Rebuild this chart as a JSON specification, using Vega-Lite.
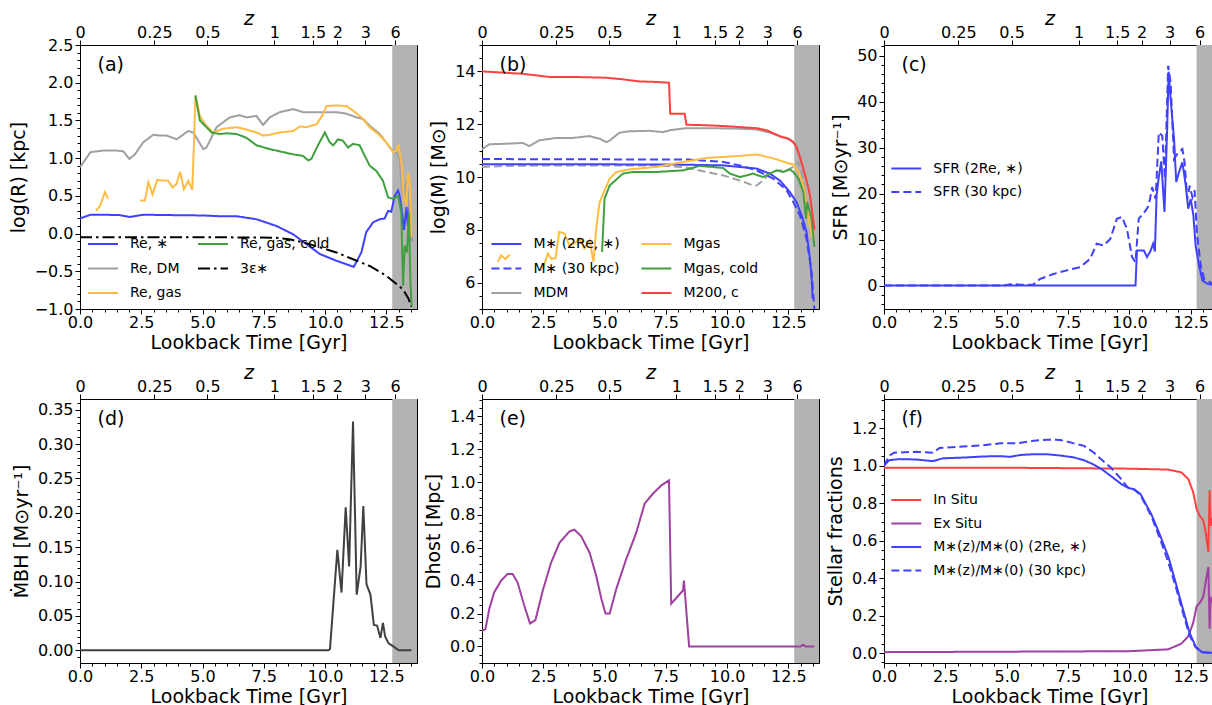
{
"$schema": "https://vega.github.io/schema/vega-lite/v6.json",
"background": "white",
"padding": {"left": 8, "top": 8, "right": 0, "bottom": 0},
"columns": 3,
"spacing": {"row": 90, "column": 65},
"bounds": "flush",
"resolve": {"scale": {"color": "independent", "strokeDash": "independent"}, "legend": {"color": "independent", "strokeDash": "independent"}},
"config": {
 "font": "DejaVu Sans",
 "view": {"stroke": "black", "strokeWidth": 1},
 "axis": {"labelFont": "DejaVu Sans", "labelFontSize": 16, "labelColor": "black", "titleFont": "DejaVu Sans", "titleFontSize": 19, "titleFontWeight": "normal", "titleColor": "black", "tickColor": "black", "domainColor": "black", "grid": false, "tickSize": 5, "labelPadding": 2, "labelFlush": false, "labelOverlap": false, "labelBound": false},
 "legend": {"labelFont": "DejaVu Sans", "labelFontSize": 14, "labelColor": "black", "symbolStrokeWidth": 2, "labelOffset": 15, "rowPadding": 5, "padding": 0, "labelLimit": 400},
 "title": {"anchor": "start", "frame": "group", "fontSize": 19, "fontWeight": "normal", "font": "DejaVu Sans", "color": "black", "dx": 17.5, "dy": 70, "baseline": "alphabetic", "offset": 0}
},
"datasets": {
 "a": [
  {"s":"Re, ∗","t":0,"v":0.2},{"s":"Re, ∗","t":0.43,"v":0.25},{"s":"Re, ∗","t":0.95,"v":0.25},{"s":"Re, ∗","t":1.6,"v":0.245},{"s":"Re, ∗","t":2.04,"v":0.22},{"s":"Re, ∗","t":2.58,"v":0.25},{"s":"Re, ∗","t":3.67,"v":0.245},{"s":"Re, ∗","t":5.03,"v":0.24},{"s":"Re, ∗","t":5.71,"v":0.23},{"s":"Re, ∗","t":6.39,"v":0.23},{"s":"Re, ∗","t":7.2,"v":0.19},{"s":"Re, ∗","t":8.02,"v":0.1},{"s":"Re, ∗","t":8.7,"v":-0.01},{"s":"Re, ∗","t":9.24,"v":-0.14},{"s":"Re, ∗","t":9.78,"v":-0.27},{"s":"Re, ∗","t":10.46,"v":-0.36},{"s":"Re, ∗","t":11.07,"v":-0.43},{"s":"Re, ∗","t":11.17,"v":-0.44},{"s":"Re, ∗","t":11.48,"v":-0.25},{"s":"Re, ∗","t":11.68,"v":0.02},{"s":"Re, ∗","t":11.96,"v":0.15},{"s":"Re, ∗","t":12.23,"v":0.19},{"s":"Re, ∗","t":12.43,"v":0.2},{"s":"Re, ∗","t":12.57,"v":0.3},{"s":"Re, ∗","t":12.7,"v":0.29},{"s":"Re, ∗","t":12.84,"v":0.5},{"s":"Re, ∗","t":12.98,"v":0.57},{"s":"Re, ∗","t":13.04,"v":0.5},{"s":"Re, ∗","t":13.14,"v":0.28},{"s":"Re, ∗","t":13.22,"v":0.05},{"s":"Re, ∗","t":13.32,"v":0.35},{"s":"Re, ∗","t":13.38,"v":0.1},{"s":"Re, ∗","t":13.45,"v":0.42},{"s":"Re, ∗","t":13.53,"v":-0.1},
  {"s":"Re, DM","t":0,"v":0.88},{"s":"Re, DM","t":0.43,"v":1.08},{"s":"Re, DM","t":0.95,"v":1.1},{"s":"Re, DM","t":1.49,"v":1.1},{"s":"Re, DM","t":1.77,"v":1.09},{"s":"Re, DM","t":2.01,"v":0.99},{"s":"Re, DM","t":2.24,"v":1.05},{"s":"Re, DM","t":2.58,"v":1.21},{"s":"Re, DM","t":2.99,"v":1.31},{"s":"Re, DM","t":3.26,"v":1.3},{"s":"Re, DM","t":3.53,"v":1.3},{"s":"Re, DM","t":3.94,"v":1.25},{"s":"Re, DM","t":4.42,"v":1.36},{"s":"Re, DM","t":4.62,"v":1.34},{"s":"Re, DM","t":5.03,"v":1.12},{"s":"Re, DM","t":5.16,"v":1.14},{"s":"Re, DM","t":5.57,"v":1.41},{"s":"Re, DM","t":6.11,"v":1.54},{"s":"Re, DM","t":6.52,"v":1.57},{"s":"Re, DM","t":6.79,"v":1.54},{"s":"Re, DM","t":7.2,"v":1.56},{"s":"Re, DM","t":7.47,"v":1.44},{"s":"Re, DM","t":7.74,"v":1.54},{"s":"Re, DM","t":8.15,"v":1.61},{"s":"Re, DM","t":8.7,"v":1.65},{"s":"Re, DM","t":9.1,"v":1.61},{"s":"Re, DM","t":9.78,"v":1.61},{"s":"Re, DM","t":10.46,"v":1.61},{"s":"Re, DM","t":10.87,"v":1.59},{"s":"Re, DM","t":11.28,"v":1.54},{"s":"Re, DM","t":11.55,"v":1.52},{"s":"Re, DM","t":11.82,"v":1.43},{"s":"Re, DM","t":12.23,"v":1.32},{"s":"Re, DM","t":12.7,"v":1.12},{"s":"Re, DM","t":12.91,"v":1.08},{"s":"Re, DM","t":13.04,"v":0.99},{"s":"Re, DM","t":13.18,"v":0.46},{"s":"Re, DM","t":13.32,"v":0.7},{"s":"Re, DM","t":13.45,"v":0.3},{"s":"Re, DM","t":13.53,"v":-0.1},
  {"s":"Re, gas","g":1,"t":0.65,"v":0.3},{"s":"Re, gas","g":1,"t":0.82,"v":0.37},{"s":"Re, gas","g":1,"t":1.02,"v":0.55},{"s":"Re, gas","g":1,"t":1.15,"v":0.46},
  {"s":"Re, gas","g":2,"t":2.45,"v":0.44},{"s":"Re, gas","g":2,"t":2.65,"v":0.44},{"s":"Re, gas","g":2,"t":2.79,"v":0.68},{"s":"Re, gas","g":2,"t":2.96,"v":0.52},{"s":"Re, gas","g":2,"t":3.15,"v":0.71},{"s":"Re, gas","g":2,"t":3.6,"v":0.7},{"s":"Re, gas","g":2,"t":3.78,"v":0.61},{"s":"Re, gas","g":2,"t":3.94,"v":0.66},{"s":"Re, gas","g":2,"t":4.08,"v":0.82},{"s":"Re, gas","g":2,"t":4.24,"v":0.59},{"s":"Re, gas","g":2,"t":4.42,"v":0.7},{"s":"Re, gas","g":2,"t":4.58,"v":0.58},{"s":"Re, gas","g":2,"t":4.65,"v":1.2},{"s":"Re, gas","g":2,"t":4.71,"v":1.83},{"s":"Re, gas","g":2,"t":4.89,"v":1.56},{"s":"Re, gas","g":2,"t":5.1,"v":1.45},{"s":"Re, gas","g":2,"t":5.43,"v":1.34},{"s":"Re, gas","g":2,"t":5.84,"v":1.39},{"s":"Re, gas","g":2,"t":6.39,"v":1.41},{"s":"Re, gas","g":2,"t":6.66,"v":1.39},{"s":"Re, gas","g":2,"t":7.2,"v":1.34},{"s":"Re, gas","g":2,"t":7.47,"v":1.3},{"s":"Re, gas","g":2,"t":7.74,"v":1.31},{"s":"Re, gas","g":2,"t":8.15,"v":1.34},{"s":"Re, gas","g":2,"t":8.42,"v":1.35},{"s":"Re, gas","g":2,"t":8.7,"v":1.36},{"s":"Re, gas","g":2,"t":8.97,"v":1.42},{"s":"Re, gas","g":2,"t":9.24,"v":1.41},{"s":"Re, gas","g":2,"t":9.65,"v":1.45},{"s":"Re, gas","g":2,"t":9.92,"v":1.58},{"s":"Re, gas","g":2,"t":10.05,"v":1.69},{"s":"Re, gas","g":2,"t":10.46,"v":1.7},{"s":"Re, gas","g":2,"t":10.87,"v":1.69},{"s":"Re, gas","g":2,"t":11.14,"v":1.63},{"s":"Re, gas","g":2,"t":11.48,"v":1.54},{"s":"Re, gas","g":2,"t":11.82,"v":1.41},{"s":"Re, gas","g":2,"t":12.23,"v":1.3},{"s":"Re, gas","g":2,"t":12.5,"v":1.21},{"s":"Re, gas","g":2,"t":12.77,"v":1.08},{"s":"Re, gas","g":2,"t":12.91,"v":1.1},{"s":"Re, gas","g":2,"t":13.0,"v":1.18},{"s":"Re, gas","g":2,"t":13.11,"v":0.94},{"s":"Re, gas","g":2,"t":13.15,"v":0.81},{"s":"Re, gas","g":2,"t":13.21,"v":0.46},{"s":"Re, gas","g":2,"t":13.32,"v":0.37},{"s":"Re, gas","g":2,"t":13.38,"v":0.81},{"s":"Re, gas","g":2,"t":13.45,"v":0.7},{"s":"Re, gas","g":2,"t":13.53,"v":-0.05},
  {"s":"Re, gas, cold","t":4.71,"v":1.83},{"s":"Re, gas, cold","t":4.89,"v":1.5},{"s":"Re, gas, cold","t":5.1,"v":1.43},{"s":"Re, gas, cold","t":5.37,"v":1.34},{"s":"Re, gas, cold","t":5.71,"v":1.32},{"s":"Re, gas, cold","t":5.98,"v":1.33},{"s":"Re, gas, cold","t":6.39,"v":1.32},{"s":"Re, gas, cold","t":6.79,"v":1.27},{"s":"Re, gas, cold","t":7.2,"v":1.17},{"s":"Re, gas, cold","t":7.74,"v":1.12},{"s":"Re, gas, cold","t":8.29,"v":1.08},{"s":"Re, gas, cold","t":8.7,"v":1.05},{"s":"Re, gas, cold","t":9.1,"v":1.03},{"s":"Re, gas, cold","t":9.31,"v":0.97},{"s":"Re, gas, cold","t":9.44,"v":0.99},{"s":"Re, gas, cold","t":9.71,"v":1.17},{"s":"Re, gas, cold","t":9.99,"v":1.34},{"s":"Re, gas, cold","t":10.19,"v":1.21},{"s":"Re, gas, cold","t":10.33,"v":1.17},{"s":"Re, gas, cold","t":10.53,"v":1.25},{"s":"Re, gas, cold","t":10.73,"v":1.23},{"s":"Re, gas, cold","t":10.94,"v":1.14},{"s":"Re, gas, cold","t":11.14,"v":1.19},{"s":"Re, gas, cold","t":11.41,"v":1.17},{"s":"Re, gas, cold","t":11.62,"v":1.03},{"s":"Re, gas, cold","t":11.82,"v":0.9},{"s":"Re, gas, cold","t":12.09,"v":0.83},{"s":"Re, gas, cold","t":12.36,"v":0.7},{"s":"Re, gas, cold","t":12.57,"v":0.48},{"s":"Re, gas, cold","t":12.77,"v":0.46},{"s":"Re, gas, cold","t":12.98,"v":0.5},{"s":"Re, gas, cold","t":13.11,"v":0.28},{"s":"Re, gas, cold","t":13.18,"v":-0.69},{"s":"Re, gas, cold","t":13.25,"v":-0.16},{"s":"Re, gas, cold","t":13.34,"v":-0.25},{"s":"Re, gas, cold","t":13.42,"v":0.28},{"s":"Re, gas, cold","t":13.48,"v":-0.64},{"s":"Re, gas, cold","t":13.53,"v":-0.96},
  {"s":"3ε∗","t":0,"v":-0.05},{"s":"3ε∗","t":3,"v":-0.05},{"s":"3ε∗","t":6,"v":-0.05},{"s":"3ε∗","t":8,"v":-0.055},{"s":"3ε∗","t":8.6,"v":-0.08},{"s":"3ε∗","t":9.1,"v":-0.117},{"s":"3ε∗","t":9.78,"v":-0.18},{"s":"3ε∗","t":10.46,"v":-0.25},{"s":"3ε∗","t":11.14,"v":-0.34},{"s":"3ε∗","t":11.82,"v":-0.43},{"s":"3ε∗","t":12.5,"v":-0.56},{"s":"3ε∗","t":13.18,"v":-0.74},{"s":"3ε∗","t":13.4,"v":-0.86},{"s":"3ε∗","t":13.52,"v":-0.97}
 ],
 "b": [
  {"s":"MDM (30 kpc)","t":0,"v":10.38},{"s":"MDM (30 kpc)","t":0.98,"v":10.42},{"s":"MDM (30 kpc)","t":3.02,"v":10.44},{"s":"MDM (30 kpc)","t":5.75,"v":10.44},{"s":"MDM (30 kpc)","t":7.11,"v":10.44},{"s":"MDM (30 kpc)","t":8.2,"v":10.38},{"s":"MDM (30 kpc)","t":9.16,"v":10.19},{"s":"MDM (30 kpc)","t":9.84,"v":10.06},{"s":"MDM (30 kpc)","t":10.52,"v":9.87},{"s":"MDM (30 kpc)","t":11.06,"v":9.68},{"s":"MDM (30 kpc)","t":11.2,"v":9.68},{"s":"MDM (30 kpc)","t":11.47,"v":9.87},{"s":"MDM (30 kpc)","t":11.74,"v":10.13},{"s":"MDM (30 kpc)","t":12.02,"v":10.25},{"s":"MDM (30 kpc)","t":12.43,"v":10.25},{"s":"MDM (30 kpc)","t":12.7,"v":10.38},{"s":"MDM (30 kpc)","t":12.91,"v":10.57},{"s":"MDM (30 kpc)","t":13.04,"v":10.25},{"s":"MDM (30 kpc)","t":13.18,"v":9.43},{"s":"MDM (30 kpc)","t":13.31,"v":8.67},
  {"s":"MDM","t":0,"v":11.05},{"s":"MDM","t":0.3,"v":11.24},{"s":"MDM","t":0.98,"v":11.26},{"s":"MDM","t":1.66,"v":11.29},{"s":"MDM","t":1.93,"v":11.17},{"s":"MDM","t":2.34,"v":11.39},{"s":"MDM","t":3.02,"v":11.48},{"s":"MDM","t":3.71,"v":11.48},{"s":"MDM","t":4.39,"v":11.55},{"s":"MDM","t":4.8,"v":11.45},{"s":"MDM","t":5.07,"v":11.32},{"s":"MDM","t":5.21,"v":11.38},{"s":"MDM","t":5.61,"v":11.68},{"s":"MDM","t":6.02,"v":11.73},{"s":"MDM","t":6.84,"v":11.75},{"s":"MDM","t":7.38,"v":11.7},{"s":"MDM","t":7.66,"v":11.77},{"s":"MDM","t":8.34,"v":11.85},{"s":"MDM","t":9.16,"v":11.85},{"s":"MDM","t":10.52,"v":11.83},{"s":"MDM","t":11.2,"v":11.8},{"s":"MDM","t":11.74,"v":11.68},{"s":"MDM","t":12.15,"v":11.55},{"s":"MDM","t":12.56,"v":11.43},{"s":"MDM","t":12.81,"v":11.2},{"s":"MDM","t":12.91,"v":10.95},{"s":"MDM","t":13.11,"v":10.3},{"s":"MDM","t":13.32,"v":9.6},{"s":"MDM","t":13.45,"v":8.9},
  {"s":"M∗ (2Re, ∗)","t":0,"v":10.48},{"s":"M∗ (2Re, ∗)","t":5,"v":10.48},{"s":"M∗ (2Re, ∗)","t":8,"v":10.47},{"s":"M∗ (2Re, ∗)","t":9.84,"v":10.44},{"s":"M∗ (2Re, ∗)","t":11.2,"v":10.32},{"s":"M∗ (2Re, ∗)","t":11.74,"v":10.13},{"s":"M∗ (2Re, ∗)","t":12.15,"v":9.87},{"s":"M∗ (2Re, ∗)","t":12.56,"v":9.43},{"s":"M∗ (2Re, ∗)","t":12.83,"v":9.05},{"s":"M∗ (2Re, ∗)","t":13.04,"v":8.55},{"s":"M∗ (2Re, ∗)","t":13.24,"v":7.92},{"s":"M∗ (2Re, ∗)","t":13.31,"v":7.41},{"s":"M∗ (2Re, ∗)","t":13.38,"v":6.91},{"s":"M∗ (2Re, ∗)","t":13.45,"v":6.15},{"s":"M∗ (2Re, ∗)","t":13.49,"v":5.39},
  {"s":"M∗ (30 kpc)","t":0,"v":10.68},{"s":"M∗ (30 kpc)","t":8.45,"v":10.66},{"s":"M∗ (30 kpc)","t":9.84,"v":10.57},{"s":"M∗ (30 kpc)","t":10.52,"v":10.44},{"s":"M∗ (30 kpc)","t":11.2,"v":10.25},{"s":"M∗ (30 kpc)","t":11.88,"v":9.94},{"s":"M∗ (30 kpc)","t":12.43,"v":9.5},{"s":"M∗ (30 kpc)","t":12.7,"v":9.05},{"s":"M∗ (30 kpc)","t":12.97,"v":8.55},{"s":"M∗ (30 kpc)","t":13.24,"v":7.67},{"s":"M∗ (30 kpc)","t":13.45,"v":6.4},{"s":"M∗ (30 kpc)","t":13.56,"v":5.0},{"s":"M∗ (30 kpc)","t":13.6,"v":4.5},
  {"s":"Mgas","g":1,"t":0.64,"v":6.78},{"s":"Mgas","g":1,"t":0.78,"v":7.03},{"s":"Mgas","g":1,"t":0.95,"v":6.9},{"s":"Mgas","g":1,"t":1.14,"v":7.06},
  {"s":"Mgas","g":2,"t":2.48,"v":6.53},{"s":"Mgas","g":2,"t":2.69,"v":7.1},{"s":"Mgas","g":2,"t":2.83,"v":6.9},{"s":"Mgas","g":2,"t":3.0,"v":6.93},{"s":"Mgas","g":2,"t":3.15,"v":7.92},{"s":"Mgas","g":2,"t":3.36,"v":7.86},{"s":"Mgas","g":2,"t":3.57,"v":7.41},{"s":"Mgas","g":2,"t":3.77,"v":7.48},{"s":"Mgas","g":2,"t":3.98,"v":7.67},{"s":"Mgas","g":2,"t":4.18,"v":7.29},{"s":"Mgas","g":2,"t":4.39,"v":7.6},{"s":"Mgas","g":2,"t":4.55,"v":6.78},{"s":"Mgas","g":2,"t":4.66,"v":8.04},{"s":"Mgas","g":2,"t":4.8,"v":9.05},{"s":"Mgas","g":2,"t":5.0,"v":9.49},{"s":"Mgas","g":2,"t":5.21,"v":9.94},{"s":"Mgas","g":2,"t":5.48,"v":10.19},{"s":"Mgas","g":2,"t":6.02,"v":10.29},{"s":"Mgas","g":2,"t":7.11,"v":10.38},{"s":"Mgas","g":2,"t":8.2,"v":10.57},{"s":"Mgas","g":2,"t":9.16,"v":10.72},{"s":"Mgas","g":2,"t":10.52,"v":10.8},{"s":"Mgas","g":2,"t":11.2,"v":10.85},{"s":"Mgas","g":2,"t":11.61,"v":10.77},{"s":"Mgas","g":2,"t":12.02,"v":10.67},{"s":"Mgas","g":2,"t":12.43,"v":10.54},{"s":"Mgas","g":2,"t":12.7,"v":10.47},{"s":"Mgas","g":2,"t":12.91,"v":10.19},{"s":"Mgas","g":2,"t":13.11,"v":9.68},{"s":"Mgas","g":2,"t":13.24,"v":8.93},{"s":"Mgas","g":2,"t":13.38,"v":8.17},{"s":"Mgas","g":2,"t":13.49,"v":7.67},
  {"s":"Mgas, cold","t":4.9,"v":7.16},{"s":"Mgas, cold","t":5.0,"v":9.18},{"s":"Mgas, cold","t":5.21,"v":9.68},{"s":"Mgas, cold","t":5.75,"v":10.13},{"s":"Mgas, cold","t":6.16,"v":10.19},{"s":"Mgas, cold","t":7.11,"v":10.19},{"s":"Mgas, cold","t":8.2,"v":10.25},{"s":"Mgas, cold","t":8.88,"v":10.42},{"s":"Mgas, cold","t":9.43,"v":10.38},{"s":"Mgas, cold","t":9.84,"v":10.34},{"s":"Mgas, cold","t":10.11,"v":10.13},{"s":"Mgas, cold","t":10.52,"v":10.0},{"s":"Mgas, cold","t":10.8,"v":10.06},{"s":"Mgas, cold","t":11.06,"v":10.13},{"s":"Mgas, cold","t":11.2,"v":10.08},{"s":"Mgas, cold","t":11.47,"v":10.0},{"s":"Mgas, cold","t":11.74,"v":10.13},{"s":"Mgas, cold","t":11.88,"v":10.19},{"s":"Mgas, cold","t":12.02,"v":10.25},{"s":"Mgas, cold","t":12.29,"v":10.19},{"s":"Mgas, cold","t":12.56,"v":10.29},{"s":"Mgas, cold","t":12.7,"v":10.19},{"s":"Mgas, cold","t":12.91,"v":9.94},{"s":"Mgas, cold","t":13.11,"v":9.43},{"s":"Mgas, cold","t":13.22,"v":8.42},{"s":"Mgas, cold","t":13.27,"v":9.05},{"s":"Mgas, cold","t":13.38,"v":8.67},{"s":"Mgas, cold","t":13.45,"v":8.42},{"s":"Mgas, cold","t":13.56,"v":7.35},
  {"s":"M200, c","t":0,"v":14.0},{"s":"M200, c","t":1.66,"v":13.91},{"s":"M200, c","t":2.75,"v":13.79},{"s":"M200, c","t":3.71,"v":13.79},{"s":"M200, c","t":5.07,"v":13.76},{"s":"M200, c","t":5.75,"v":13.7},{"s":"M200, c","t":6.43,"v":13.62},{"s":"M200, c","t":7.11,"v":13.6},{"s":"M200, c","t":7.63,"v":13.57},{"s":"M200, c","t":7.68,"v":12.4},{"s":"M200, c","t":8.27,"v":12.4},{"s":"M200, c","t":8.34,"v":11.98},{"s":"M200, c","t":9.16,"v":11.96},{"s":"M200, c","t":9.84,"v":11.93},{"s":"M200, c","t":10.52,"v":11.89},{"s":"M200, c","t":11.2,"v":11.85},{"s":"M200, c","t":11.61,"v":11.77},{"s":"M200, c","t":12.02,"v":11.6},{"s":"M200, c","t":12.22,"v":11.51},{"s":"M200, c","t":12.43,"v":11.48},{"s":"M200, c","t":12.7,"v":11.33},{"s":"M200, c","t":12.83,"v":11.14},{"s":"M200, c","t":12.97,"v":10.76},{"s":"M200, c","t":13.11,"v":10.32},{"s":"M200, c","t":13.24,"v":9.87},{"s":"M200, c","t":13.38,"v":9.31},{"s":"M200, c","t":13.49,"v":8.55},{"s":"M200, c","t":13.56,"v":8.0}
 ],
 "c": [
  {"s":"SFR (2Re, ∗)","t":0,"v":0},{"s":"SFR (2Re, ∗)","t":10.25,"v":0},{"s":"SFR (2Re, ∗)","t":10.31,"v":7.6},{"s":"SFR (2Re, ∗)","t":10.59,"v":7.6},{"s":"SFR (2Re, ∗)","t":10.72,"v":6.2},{"s":"SFR (2Re, ∗)","t":10.86,"v":7.5},{"s":"SFR (2Re, ∗)","t":10.97,"v":9.1},{"s":"SFR (2Re, ∗)","t":11.04,"v":7.4},{"s":"SFR (2Re, ∗)","t":11.11,"v":19.6},{"s":"SFR (2Re, ∗)","t":11.2,"v":23.6},{"s":"SFR (2Re, ∗)","t":11.3,"v":27},{"s":"SFR (2Re, ∗)","t":11.43,"v":16},{"s":"SFR (2Re, ∗)","t":11.54,"v":34},{"s":"SFR (2Re, ∗)","t":11.6,"v":46.5},{"s":"SFR (2Re, ∗)","t":11.68,"v":40.6},{"s":"SFR (2Re, ∗)","t":11.82,"v":31.9},{"s":"SFR (2Re, ∗)","t":11.91,"v":22.5},{"s":"SFR (2Re, ∗)","t":12.02,"v":24.6},{"s":"SFR (2Re, ∗)","t":12.16,"v":26.8},{"s":"SFR (2Re, ∗)","t":12.3,"v":21.7},{"s":"SFR (2Re, ∗)","t":12.4,"v":16.7},{"s":"SFR (2Re, ∗)","t":12.5,"v":18.8},{"s":"SFR (2Re, ∗)","t":12.61,"v":15.2},{"s":"SFR (2Re, ∗)","t":12.7,"v":8.7},{"s":"SFR (2Re, ∗)","t":12.84,"v":4.3},{"s":"SFR (2Re, ∗)","t":12.98,"v":1.1},{"s":"SFR (2Re, ∗)","t":13.18,"v":0.4},{"s":"SFR (2Re, ∗)","t":13.54,"v":0},
  {"s":"SFR (30 kpc)","t":0,"v":0},{"s":"SFR (30 kpc)","t":4.9,"v":0},{"s":"SFR (30 kpc)","t":5.05,"v":0.2},{"s":"SFR (30 kpc)","t":5.26,"v":0.4},{"s":"SFR (30 kpc)","t":5.53,"v":0.15},{"s":"SFR (30 kpc)","t":6.08,"v":0.2},{"s":"SFR (30 kpc)","t":6.35,"v":1.4},{"s":"SFR (30 kpc)","t":6.9,"v":2.5},{"s":"SFR (30 kpc)","t":7.45,"v":3.3},{"s":"SFR (30 kpc)","t":7.99,"v":4.0},{"s":"SFR (30 kpc)","t":8.4,"v":5.8},{"s":"SFR (30 kpc)","t":8.67,"v":9.1},{"s":"SFR (30 kpc)","t":8.95,"v":8.7},{"s":"SFR (30 kpc)","t":9.22,"v":10.1},{"s":"SFR (30 kpc)","t":9.49,"v":14.5},{"s":"SFR (30 kpc)","t":9.7,"v":14.9},{"s":"SFR (30 kpc)","t":9.9,"v":12.3},{"s":"SFR (30 kpc)","t":10.11,"v":6.2},{"s":"SFR (30 kpc)","t":10.25,"v":5.1},{"s":"SFR (30 kpc)","t":10.38,"v":14.5},{"s":"SFR (30 kpc)","t":10.66,"v":16.3},{"s":"SFR (30 kpc)","t":10.79,"v":17.4},{"s":"SFR (30 kpc)","t":10.93,"v":21.4},{"s":"SFR (30 kpc)","t":11.07,"v":18.8},{"s":"SFR (30 kpc)","t":11.2,"v":33.3},{"s":"SFR (30 kpc)","t":11.34,"v":32.6},{"s":"SFR (30 kpc)","t":11.45,"v":23.2},{"s":"SFR (30 kpc)","t":11.58,"v":47.8},{"s":"SFR (30 kpc)","t":11.68,"v":44.2},{"s":"SFR (30 kpc)","t":11.82,"v":27.5},{"s":"SFR (30 kpc)","t":11.95,"v":28.6},{"s":"SFR (30 kpc)","t":12.16,"v":29.7},{"s":"SFR (30 kpc)","t":12.25,"v":26.8},{"s":"SFR (30 kpc)","t":12.36,"v":18.8},{"s":"SFR (30 kpc)","t":12.46,"v":21.7},{"s":"SFR (30 kpc)","t":12.57,"v":19.2},{"s":"SFR (30 kpc)","t":12.66,"v":20.7},{"s":"SFR (30 kpc)","t":12.75,"v":11.6},{"s":"SFR (30 kpc)","t":12.91,"v":4.3},{"s":"SFR (30 kpc)","t":13.05,"v":1.4},{"s":"SFR (30 kpc)","t":13.54,"v":0}
 ],
 "d": [
  {"t":0,"v":0},{"t":10.13,"v":0},{"t":10.2,"v":0.002},{"t":10.5,"v":0.146},{"t":10.67,"v":0.084},{"t":10.84,"v":0.208},{"t":10.98,"v":0.122},{"t":11.14,"v":0.333},{"t":11.29,"v":0.081},{"t":11.45,"v":0.122},{"t":11.56,"v":0.21},{"t":11.69,"v":0.096},{"t":11.85,"v":0.081},{"t":11.99,"v":0.037},{"t":12.12,"v":0.036},{"t":12.26,"v":0.018},{"t":12.36,"v":0.04},{"t":12.45,"v":0.02},{"t":12.59,"v":0.01},{"t":12.77,"v":0.006},{"t":13.0,"v":0},{"t":13.52,"v":0}
 ],
 "e": [
  {"t":0,"v":0.095},{"t":0.14,"v":0.105},{"t":0.3,"v":0.23},{"t":0.5,"v":0.33},{"t":0.78,"v":0.4},{"t":1.04,"v":0.44},{"t":1.25,"v":0.44},{"t":1.45,"v":0.39},{"t":1.72,"v":0.25},{"t":1.96,"v":0.14},{"t":2.18,"v":0.16},{"t":2.48,"v":0.34},{"t":2.82,"v":0.51},{"t":3.16,"v":0.63},{"t":3.57,"v":0.7},{"t":3.77,"v":0.71},{"t":4.05,"v":0.67},{"t":4.39,"v":0.57},{"t":4.66,"v":0.43},{"t":4.87,"v":0.29},{"t":5.04,"v":0.2},{"t":5.21,"v":0.2},{"t":5.48,"v":0.35},{"t":5.88,"v":0.53},{"t":6.29,"v":0.69},{"t":6.64,"v":0.87},{"t":6.98,"v":0.93},{"t":7.32,"v":0.98},{"t":7.63,"v":1.01},{"t":7.72,"v":0.26},{"t":8.2,"v":0.34},{"t":8.24,"v":0.4},{"t":8.45,"v":0.0},{"t":13.0,"v":0.0},{"t":13.1,"v":0.01},{"t":13.2,"v":0.0},{"t":13.56,"v":0.0}
 ],
 "f": [
  {"s":"In Situ","t":0,"v":0.99},{"s":"In Situ","t":5,"v":0.99},{"s":"In Situ","t":10,"v":0.985},{"s":"In Situ","t":11.58,"v":0.98},{"s":"In Situ","t":12.12,"v":0.965},{"s":"In Situ","t":12.4,"v":0.93},{"s":"In Situ","t":12.6,"v":0.86},{"s":"In Situ","t":12.74,"v":0.77},{"s":"In Situ","t":12.88,"v":0.73},{"s":"In Situ","t":13.01,"v":0.71},{"s":"In Situ","t":13.11,"v":0.645},{"s":"In Situ","t":13.22,"v":0.54},{"s":"In Situ","t":13.27,"v":0.87},{"s":"In Situ","t":13.31,"v":0.68},{"s":"In Situ","t":13.36,"v":0.72},{"s":"In Situ","t":13.4,"v":0.68},{"s":"In Situ","t":13.45,"v":0.97},{"s":"In Situ","t":13.55,"v":0.99},
  {"s":"Ex Situ","t":0,"v":0.005},{"s":"Ex Situ","t":10,"v":0.01},{"s":"Ex Situ","t":11.58,"v":0.02},{"s":"Ex Situ","t":12.12,"v":0.05},{"s":"Ex Situ","t":12.4,"v":0.09},{"s":"Ex Situ","t":12.6,"v":0.16},{"s":"Ex Situ","t":12.74,"v":0.25},{"s":"Ex Situ","t":12.88,"v":0.27},{"s":"Ex Situ","t":13.01,"v":0.3},{"s":"Ex Situ","t":13.11,"v":0.38},{"s":"Ex Situ","t":13.22,"v":0.46},{"s":"Ex Situ","t":13.27,"v":0.13},{"s":"Ex Situ","t":13.31,"v":0.3},{"s":"Ex Situ","t":13.36,"v":0.27},{"s":"Ex Situ","t":13.4,"v":0.3},{"s":"Ex Situ","t":13.45,"v":0.03},{"s":"Ex Situ","t":13.55,"v":0.0},
  {"s":"M∗(z)/M∗(0) (2Re, ∗)","t":0,"v":1.0},{"s":"M∗(z)/M∗(0) (2Re, ∗)","t":0.21,"v":1.03},{"s":"M∗(z)/M∗(0) (2Re, ∗)","t":0.62,"v":1.036},{"s":"M∗(z)/M∗(0) (2Re, ∗)","t":1.3,"v":1.034},{"s":"M∗(z)/M∗(0) (2Re, ∗)","t":1.99,"v":1.025},{"s":"M∗(z)/M∗(0) (2Re, ∗)","t":2.4,"v":1.04},{"s":"M∗(z)/M∗(0) (2Re, ∗)","t":3.36,"v":1.045},{"s":"M∗(z)/M∗(0) (2Re, ∗)","t":4.04,"v":1.05},{"s":"M∗(z)/M∗(0) (2Re, ∗)","t":4.73,"v":1.052},{"s":"M∗(z)/M∗(0) (2Re, ∗)","t":5.14,"v":1.048},{"s":"M∗(z)/M∗(0) (2Re, ∗)","t":5.55,"v":1.058},{"s":"M∗(z)/M∗(0) (2Re, ∗)","t":6.1,"v":1.062},{"s":"M∗(z)/M∗(0) (2Re, ∗)","t":6.64,"v":1.062},{"s":"M∗(z)/M∗(0) (2Re, ∗)","t":7.19,"v":1.055},{"s":"M∗(z)/M∗(0) (2Re, ∗)","t":7.74,"v":1.045},{"s":"M∗(z)/M∗(0) (2Re, ∗)","t":8.15,"v":1.03},{"s":"M∗(z)/M∗(0) (2Re, ∗)","t":8.5,"v":1.01},{"s":"M∗(z)/M∗(0) (2Re, ∗)","t":8.9,"v":0.98},{"s":"M∗(z)/M∗(0) (2Re, ∗)","t":9.3,"v":0.94},{"s":"M∗(z)/M∗(0) (2Re, ∗)","t":9.7,"v":0.9},{"s":"M∗(z)/M∗(0) (2Re, ∗)","t":10.0,"v":0.88},{"s":"M∗(z)/M∗(0) (2Re, ∗)","t":10.2,"v":0.875},{"s":"M∗(z)/M∗(0) (2Re, ∗)","t":10.45,"v":0.85},{"s":"M∗(z)/M∗(0) (2Re, ∗)","t":10.9,"v":0.74},{"s":"M∗(z)/M∗(0) (2Re, ∗)","t":11.25,"v":0.63},{"s":"M∗(z)/M∗(0) (2Re, ∗)","t":11.6,"v":0.51},{"s":"M∗(z)/M∗(0) (2Re, ∗)","t":11.9,"v":0.37},{"s":"M∗(z)/M∗(0) (2Re, ∗)","t":12.15,"v":0.25},{"s":"M∗(z)/M∗(0) (2Re, ∗)","t":12.45,"v":0.11},{"s":"M∗(z)/M∗(0) (2Re, ∗)","t":12.7,"v":0.035},{"s":"M∗(z)/M∗(0) (2Re, ∗)","t":12.95,"v":0.005},{"s":"M∗(z)/M∗(0) (2Re, ∗)","t":13.55,"v":0.0},
  {"s":"M∗(z)/M∗(0) (30 kpc)","t":0,"v":1.0},{"s":"M∗(z)/M∗(0) (30 kpc)","t":0.21,"v":1.054},{"s":"M∗(z)/M∗(0) (30 kpc)","t":0.41,"v":1.07},{"s":"M∗(z)/M∗(0) (30 kpc)","t":1.3,"v":1.075},{"s":"M∗(z)/M∗(0) (30 kpc)","t":1.99,"v":1.07},{"s":"M∗(z)/M∗(0) (30 kpc)","t":2.26,"v":1.095},{"s":"M∗(z)/M∗(0) (30 kpc)","t":3.36,"v":1.104},{"s":"M∗(z)/M∗(0) (30 kpc)","t":4.04,"v":1.11},{"s":"M∗(z)/M∗(0) (30 kpc)","t":4.73,"v":1.12},{"s":"M∗(z)/M∗(0) (30 kpc)","t":5.41,"v":1.12},{"s":"M∗(z)/M∗(0) (30 kpc)","t":6.1,"v":1.134},{"s":"M∗(z)/M∗(0) (30 kpc)","t":6.64,"v":1.14},{"s":"M∗(z)/M∗(0) (30 kpc)","t":7.19,"v":1.138},{"s":"M∗(z)/M∗(0) (30 kpc)","t":7.74,"v":1.12},{"s":"M∗(z)/M∗(0) (30 kpc)","t":8.15,"v":1.107},{"s":"M∗(z)/M∗(0) (30 kpc)","t":8.56,"v":1.07},{"s":"M∗(z)/M∗(0) (30 kpc)","t":8.84,"v":1.036},{"s":"M∗(z)/M∗(0) (30 kpc)","t":9.25,"v":0.99},{"s":"M∗(z)/M∗(0) (30 kpc)","t":9.66,"v":0.93},{"s":"M∗(z)/M∗(0) (30 kpc)","t":9.93,"v":0.885},{"s":"M∗(z)/M∗(0) (30 kpc)","t":10.2,"v":0.872},{"s":"M∗(z)/M∗(0) (30 kpc)","t":10.45,"v":0.845},{"s":"M∗(z)/M∗(0) (30 kpc)","t":10.9,"v":0.73},{"s":"M∗(z)/M∗(0) (30 kpc)","t":11.25,"v":0.61},{"s":"M∗(z)/M∗(0) (30 kpc)","t":11.6,"v":0.48},{"s":"M∗(z)/M∗(0) (30 kpc)","t":11.9,"v":0.35},{"s":"M∗(z)/M∗(0) (30 kpc)","t":12.15,"v":0.23},{"s":"M∗(z)/M∗(0) (30 kpc)","t":12.45,"v":0.095},{"s":"M∗(z)/M∗(0) (30 kpc)","t":12.7,"v":0.03},{"s":"M∗(z)/M∗(0) (30 kpc)","t":12.95,"v":0.004},{"s":"M∗(z)/M∗(0) (30 kpc)","t":13.55,"v":0.0}
 ]
},
"concat": [
 {"width": 337, "height": 264, "title": {"text": "(a)"},
  "layer": [
   {"data": {"values": [{"t0": 12.74, "t1": 13.75}]}, "mark": {"type": "rect", "color": "#b3b3b3", "clip": true},
    "encoding": {"x": {"field": "t0", "type": "quantitative", "scale": {"domain": [0, 13.75], "nice": false, "zero": false}, "axis": {"orient": "top", "title": "z", "titleFontStyle": "italic", "titlePadding": -4, "labelPadding": 0, "values": [0, 3.03, 5.2, 7.93, 9.5, 10.5, 11.64, 12.86], "labelExpr": "datum.value < 1 ? '0' : datum.value < 4 ? '0.25' : datum.value < 6 ? '0.5' : datum.value < 9 ? '1' : datum.value < 10 ? '1.5' : datum.value < 11 ? '2' : datum.value < 12 ? '3' : '6'"}}, "x2": {"field": "t1"}}},
   {"data": {"name": "a"}, "mark": {"type": "line", "strokeWidth": 2, "clip": true},
    "encoding": {
     "x": {"field": "t", "type": "quantitative", "scale": {"domain": [0, 13.75], "nice": false, "zero": false}, "axis": {"orient": "bottom", "title": "Lookback Time [Gyr]", "values": [0, 2.5, 5, 7.5, 10, 12.5], "format": ".1f", "titlePadding": 3, "labelPadding": 0}},
     "y": {"field": "v", "type": "quantitative", "scale": {"domain": [-1, 2.5], "nice": false, "zero": false}, "axis": {"orient": "left", "title": "log(R) [kpc]", "values": [-1, -0.5, 0, 0.5, 1, 1.5, 2, 2.5], "format": ".1f", "titlePadding": 6}},
     "color": {"field": "s", "type": "nominal", "scale": {"domain": ["Re, ∗", "Re, DM", "Re, gas", "Re, gas, cold", "3ε∗"], "range": ["#4040ff", "#a0a0a0", "#ffbc40", "#40a040", "#000000"]},
       "legend": {"orient": "none", "legendX": 11, "legendY": 187, "columns": 2, "columnPadding": 12, "rowPadding": 5.5, "title": null, "symbolType": "M-1.36,0H1.36", "symbolSize": 484}},
     "strokeDash": {"field": "s", "type": "nominal", "scale": {"domain": ["Re, ∗", "Re, DM", "Re, gas", "Re, gas, cold", "3ε∗"], "range": [[1, 0], [1, 0], [1, 0], [1, 0], [12, 4, 2.5, 4]]},
       "legend": {"orient": "none", "legendX": 11, "legendY": 187, "columns": 2, "columnPadding": 12, "rowPadding": 5.5, "title": null, "symbolType": "M-1.36,0H1.36", "symbolSize": 484}},
     "detail": {"field": "g", "type": "nominal"}}},
   {"data": {"name": "a"}, "mark": {"type": "point", "opacity": 0},
    "encoding": {
     "x": {"field": "t", "type": "quantitative", "scale": {"domain": [0, 13.75], "nice": false, "zero": false}, "axis": {"orient": "bottom", "title": null, "labels": false, "domain": false, "tickSize": 3, "values": [0.5,1,1.5,2,3,3.5,4,4.5,5.5,6,6.5,7,8,8.5,9,9.5,10.5,11,11.5,12,13,13.5]}},
     "y": {"field": "v", "type": "quantitative", "scale": {"domain": [-1, 2.5], "nice": false, "zero": false}, "axis": {"orient": "left", "title": null, "labels": false, "domain": false, "tickSize": 3, "values": [-0.9,-0.8,-0.7,-0.6,-0.4,-0.3,-0.2,-0.1,0.1,0.2,0.3,0.4,0.6,0.7,0.8,0.9,1.1,1.2,1.3,1.4,1.6,1.7,1.8,1.9,2.1,2.2,2.3,2.4]}}}}
  ],
  "resolve": {"scale": {"x": "independent", "y": "independent"}}},
 {"width": 337, "height": 264, "title": {"text": "(b)"},
  "layer": [
   {"data": {"values": [{"t0": 12.74, "t1": 13.75}]}, "mark": {"type": "rect", "color": "#b3b3b3", "clip": true},
    "encoding": {"x": {"field": "t0", "type": "quantitative", "scale": {"domain": [0, 13.75], "nice": false, "zero": false}, "axis": {"orient": "top", "title": "z", "titleFontStyle": "italic", "titlePadding": -4, "labelPadding": 0, "values": [0, 3.03, 5.2, 7.93, 9.5, 10.5, 11.64, 12.86], "labelExpr": "datum.value < 1 ? '0' : datum.value < 4 ? '0.25' : datum.value < 6 ? '0.5' : datum.value < 9 ? '1' : datum.value < 10 ? '1.5' : datum.value < 11 ? '2' : datum.value < 12 ? '3' : '6'"}}, "x2": {"field": "t1"}}},
   {"data": {"name": "b"}, "mark": {"type": "line", "strokeWidth": 2, "clip": true},
    "encoding": {
     "x": {"field": "t", "type": "quantitative", "scale": {"domain": [0, 13.75], "nice": false, "zero": false}, "axis": {"orient": "bottom", "title": "Lookback Time [Gyr]", "values": [0, 2.5, 5, 7.5, 10, 12.5], "format": ".1f", "titlePadding": 3, "labelPadding": 0}},
     "y": {"field": "v", "type": "quantitative", "scale": {"domain": [5, 15], "nice": false, "zero": false}, "axis": {"orient": "left", "title": "log(M) [M⊙]", "values": [6, 8, 10, 12, 14], "format": "d", "titlePadding": 6}},
     "color": {"field": "s", "type": "nominal", "scale": {"domain": ["M∗ (2Re, ∗)", "M∗ (30 kpc)", "MDM", "Mgas", "Mgas, cold", "M200, c", "MDM (30 kpc)"], "range": ["#4040ff", "#4040ff", "#a0a0a0", "#ffbc40", "#40a040", "#ff4040", "#a0a0a0"]},
       "legend": {"orient": "none", "legendX": 12.4, "legendY": 187, "columns": 2, "columnPadding": 17, "rowPadding": 5.5, "title": null, "symbolType": "M-1.36,0H1.36", "symbolSize": 484, "values": ["M∗ (2Re, ∗)", "M∗ (30 kpc)", "MDM", "Mgas", "Mgas, cold", "M200, c"]}},
     "strokeDash": {"field": "s", "type": "nominal", "scale": {"domain": ["M∗ (2Re, ∗)", "M∗ (30 kpc)", "MDM", "Mgas", "Mgas, cold", "M200, c", "MDM (30 kpc)"], "range": [[1, 0], [8, 4], [1, 0], [1, 0], [1, 0], [1, 0], [8, 4]]},
       "legend": {"orient": "none", "legendX": 12.4, "legendY": 187, "columns": 2, "columnPadding": 17, "rowPadding": 5.5, "title": null, "symbolType": "M-1.36,0H1.36", "symbolSize": 484, "values": ["M∗ (2Re, ∗)", "M∗ (30 kpc)", "MDM", "Mgas", "Mgas, cold", "M200, c"]}},
     "detail": {"field": "g", "type": "nominal"}}},
   {"data": {"name": "b"}, "mark": {"type": "point", "opacity": 0},
    "encoding": {
     "x": {"field": "t", "type": "quantitative", "scale": {"domain": [0, 13.75], "nice": false, "zero": false}, "axis": {"orient": "bottom", "title": null, "labels": false, "domain": false, "tickSize": 3, "values": [0.5,1,1.5,2,3,3.5,4,4.5,5.5,6,6.5,7,8,8.5,9,9.5,10.5,11,11.5,12,13,13.5]}},
     "y": {"field": "v", "type": "quantitative", "scale": {"domain": [5, 15], "nice": false, "zero": false}, "axis": {"orient": "left", "title": null, "labels": false, "domain": false, "tickSize": 3, "values": [5,5.5,6.5,7,7.5,8.5,9,9.5,10.5,11,11.5,12.5,13,13.5,14.5,15]}}}}
  ],
  "resolve": {"scale": {"x": "independent", "y": "independent"}}},
 {"width": 331, "height": 264, "title": {"text": "(c)"}, "view": {"stroke": null},
  "layer": [
   {"data": {"values": [{"t0": 12.74, "t1": 13.75}]}, "mark": {"type": "rect", "color": "#b3b3b3", "clip": true},
    "encoding": {"x": {"field": "t0", "type": "quantitative", "scale": {"domain": [0, 13.49], "nice": false, "zero": false}, "axis": {"orient": "top", "title": "z", "titleFontStyle": "italic", "titlePadding": -4, "labelPadding": 0, "values": [0, 3.03, 5.2, 7.93, 9.5, 10.5, 11.64, 12.86], "labelExpr": "datum.value < 1 ? '0' : datum.value < 4 ? '0.25' : datum.value < 6 ? '0.5' : datum.value < 9 ? '1' : datum.value < 10 ? '1.5' : datum.value < 11 ? '2' : datum.value < 12 ? '3' : '6'"}}, "x2": {"field": "t1"}}},
   {"data": {"name": "c"}, "mark": {"type": "line", "strokeWidth": 2, "clip": true},
    "encoding": {
     "x": {"field": "t", "type": "quantitative", "scale": {"domain": [0, 13.49], "nice": false, "zero": false}, "axis": {"orient": "bottom", "title": "Lookback Time [Gyr]", "values": [0, 2.5, 5, 7.5, 10, 12.5], "format": ".1f", "titlePadding": 3, "labelPadding": 0}},
     "y": {"field": "v", "type": "quantitative", "scale": {"domain": [-5.1, 52.3], "nice": false, "zero": false}, "axis": {"orient": "left", "title": "SFR [M⊙yr⁻¹]", "values": [0, 10, 20, 30, 40, 50], "format": "d", "titlePadding": 6}},
     "color": {"field": "s", "type": "nominal", "scale": {"domain": ["SFR (2Re, ∗)", "SFR (30 kpc)"], "range": ["#4040ff", "#4040ff"]},
       "legend": {"orient": "none", "legendX": 10.3, "legendY": 111.5, "rowPadding": 4.5, "title": null, "symbolType": "M-1.36,0H1.36", "symbolSize": 484}},
     "strokeDash": {"field": "s", "type": "nominal", "scale": {"domain": ["SFR (2Re, ∗)", "SFR (30 kpc)"], "range": [[1, 0], [8, 4]]},
       "legend": {"orient": "none", "legendX": 10.3, "legendY": 111.5, "rowPadding": 4.5, "title": null, "symbolType": "M-1.36,0H1.36", "symbolSize": 484}}}},
   {"data": {"name": "c"}, "mark": {"type": "point", "opacity": 0},
    "encoding": {
     "x": {"field": "t", "type": "quantitative", "scale": {"domain": [0, 13.49], "nice": false, "zero": false}, "axis": {"orient": "bottom", "title": null, "labels": false, "domain": false, "tickSize": 3, "values": [0.5,1,1.5,2,3,3.5,4,4.5,5.5,6,6.5,7,8,8.5,9,9.5,10.5,11,11.5,12,13]}},
     "y": {"field": "v", "type": "quantitative", "scale": {"domain": [-5.1, 52.3], "nice": false, "zero": false}, "axis": {"orient": "left", "title": null, "labels": false, "domain": false, "tickSize": 3, "values": [-4,-2,2,4,6,8,12,14,16,18,22,24,26,28,32,34,36,38,42,44,46,48,52]}}}}
  ],
  "resolve": {"scale": {"x": "independent", "y": "independent"}}},
 {"width": 337, "height": 264, "title": {"text": "(d)"},
  "layer": [
   {"data": {"values": [{"t0": 12.74, "t1": 13.75}]}, "mark": {"type": "rect", "color": "#b3b3b3", "clip": true},
    "encoding": {"x": {"field": "t0", "type": "quantitative", "scale": {"domain": [0, 13.75], "nice": false, "zero": false}, "axis": {"orient": "top", "title": "z", "titleFontStyle": "italic", "titlePadding": -4, "labelPadding": 0, "values": [0, 3.03, 5.2, 7.93, 9.5, 10.5, 11.64, 12.86], "labelExpr": "datum.value < 1 ? '0' : datum.value < 4 ? '0.25' : datum.value < 6 ? '0.5' : datum.value < 9 ? '1' : datum.value < 10 ? '1.5' : datum.value < 11 ? '2' : datum.value < 12 ? '3' : '6'"}}, "x2": {"field": "t1"}}},
   {"data": {"name": "d"}, "mark": {"type": "line", "strokeWidth": 2, "clip": true, "color": "#404040"},
    "encoding": {
     "x": {"field": "t", "type": "quantitative", "scale": {"domain": [0, 13.75], "nice": false, "zero": false}, "axis": {"orient": "bottom", "title": "Lookback Time [Gyr]", "values": [0, 2.5, 5, 7.5, 10, 12.5], "format": ".1f", "titlePadding": 3, "labelPadding": 0}},
     "y": {"field": "v", "type": "quantitative", "scale": {"domain": [-0.0185, 0.3656], "nice": false, "zero": false}, "axis": {"orient": "left", "title": "ṀBH [M⊙yr⁻¹]", "values": [0, 0.05, 0.1, 0.15, 0.2, 0.25, 0.3, 0.35], "format": ".2f", "titlePadding": 6}}}},
   {"data": {"name": "d"}, "mark": {"type": "point", "opacity": 0},
    "encoding": {
     "x": {"field": "t", "type": "quantitative", "scale": {"domain": [0, 13.75], "nice": false, "zero": false}, "axis": {"orient": "bottom", "title": null, "labels": false, "domain": false, "tickSize": 3, "values": [0.5,1,1.5,2,3,3.5,4,4.5,5.5,6,6.5,7,8,8.5,9,9.5,10.5,11,11.5,12,13,13.5]}},
     "y": {"field": "v", "type": "quantitative", "scale": {"domain": [-0.0185, 0.3656], "nice": false, "zero": false}, "axis": {"orient": "left", "title": null, "labels": false, "domain": false, "tickSize": 3, "values": [-0.01,0.01,0.02,0.03,0.04,0.06,0.07,0.08,0.09,0.11,0.12,0.13,0.14,0.16,0.17,0.18,0.19,0.21,0.22,0.23,0.24,0.26,0.27,0.28,0.29,0.31,0.32,0.33,0.34,0.36]}}}}
  ],
  "resolve": {"scale": {"x": "independent", "y": "independent"}}},
 {"width": 337, "height": 264, "title": {"text": "(e)"},
  "layer": [
   {"data": {"values": [{"t0": 12.74, "t1": 13.75}]}, "mark": {"type": "rect", "color": "#b3b3b3", "clip": true},
    "encoding": {"x": {"field": "t0", "type": "quantitative", "scale": {"domain": [0, 13.75], "nice": false, "zero": false}, "axis": {"orient": "top", "title": "z", "titleFontStyle": "italic", "titlePadding": -4, "labelPadding": 0, "values": [0, 3.03, 5.2, 7.93, 9.5, 10.5, 11.64, 12.86], "labelExpr": "datum.value < 1 ? '0' : datum.value < 4 ? '0.25' : datum.value < 6 ? '0.5' : datum.value < 9 ? '1' : datum.value < 10 ? '1.5' : datum.value < 11 ? '2' : datum.value < 12 ? '3' : '6'"}}, "x2": {"field": "t1"}}},
   {"data": {"name": "e"}, "mark": {"type": "line", "strokeWidth": 2, "clip": true, "color": "#a040a0"},
    "encoding": {
     "x": {"field": "t", "type": "quantitative", "scale": {"domain": [0, 13.75], "nice": false, "zero": false}, "axis": {"orient": "bottom", "title": "Lookback Time [Gyr]", "values": [0, 2.5, 5, 7.5, 10, 12.5], "format": ".1f", "titlePadding": 3, "labelPadding": 0}},
     "y": {"field": "v", "type": "quantitative", "scale": {"domain": [-0.101, 1.505], "nice": false, "zero": false}, "axis": {"orient": "left", "title": "Dhost [Mpc]", "values": [0, 0.2, 0.4, 0.6, 0.8, 1.0, 1.2, 1.4], "format": ".1f", "titlePadding": 6}}}},
   {"data": {"name": "e"}, "mark": {"type": "point", "opacity": 0},
    "encoding": {
     "x": {"field": "t", "type": "quantitative", "scale": {"domain": [0, 13.75], "nice": false, "zero": false}, "axis": {"orient": "bottom", "title": null, "labels": false, "domain": false, "tickSize": 3, "values": [0.5,1,1.5,2,3,3.5,4,4.5,5.5,6,6.5,7,8,8.5,9,9.5,10.5,11,11.5,12,13,13.5]}},
     "y": {"field": "v", "type": "quantitative", "scale": {"domain": [-0.101, 1.505], "nice": false, "zero": false}, "axis": {"orient": "left", "title": null, "labels": false, "domain": false, "tickSize": 3, "values": [-0.1,-0.05,0.05,0.1,0.15,0.25,0.3,0.35,0.45,0.5,0.55,0.65,0.7,0.75,0.85,0.9,0.95,1.05,1.1,1.15,1.25,1.3,1.35,1.45,1.5]}}}}
  ],
  "resolve": {"scale": {"x": "independent", "y": "independent"}}},
 {"width": 331, "height": 264, "title": {"text": "(f)"}, "view": {"stroke": null},
  "layer": [
   {"data": {"values": [{"t0": 12.74, "t1": 13.75}]}, "mark": {"type": "rect", "color": "#b3b3b3", "clip": true},
    "encoding": {"x": {"field": "t0", "type": "quantitative", "scale": {"domain": [0, 13.49], "nice": false, "zero": false}, "axis": {"orient": "top", "title": "z", "titleFontStyle": "italic", "titlePadding": -4, "labelPadding": 0, "values": [0, 3.03, 5.2, 7.93, 9.5, 10.5, 11.64, 12.86], "labelExpr": "datum.value < 1 ? '0' : datum.value < 4 ? '0.25' : datum.value < 6 ? '0.5' : datum.value < 9 ? '1' : datum.value < 10 ? '1.5' : datum.value < 11 ? '2' : datum.value < 12 ? '3' : '6'"}}, "x2": {"field": "t1"}}},
   {"data": {"name": "f"}, "mark": {"type": "line", "strokeWidth": 2, "clip": true},
    "encoding": {
     "x": {"field": "t", "type": "quantitative", "scale": {"domain": [0, 13.49], "nice": false, "zero": false}, "axis": {"orient": "bottom", "title": "Lookback Time [Gyr]", "values": [0, 2.5, 5, 7.5, 10, 12.5], "format": ".1f", "titlePadding": 3, "labelPadding": 0}},
     "y": {"field": "v", "type": "quantitative", "scale": {"domain": [-0.053, 1.357], "nice": false, "zero": false}, "axis": {"orient": "left", "title": "Stellar fractions", "values": [0, 0.2, 0.4, 0.6, 0.8, 1.0, 1.2], "format": ".1f", "titlePadding": 6}},
     "color": {"field": "s", "type": "nominal", "scale": {"domain": ["In Situ", "Ex Situ", "M∗(z)/M∗(0) (2Re, ∗)", "M∗(z)/M∗(0) (30 kpc)"], "range": ["#ff4040", "#a040a0", "#4040ff", "#4040ff"]},
       "legend": {"orient": "none", "legendX": 10.3, "legendY": 89, "rowPadding": 4.5, "title": null, "symbolType": "M-1.36,0H1.36", "symbolSize": 484}},
     "strokeDash": {"field": "s", "type": "nominal", "scale": {"domain": ["In Situ", "Ex Situ", "M∗(z)/M∗(0) (2Re, ∗)", "M∗(z)/M∗(0) (30 kpc)"], "range": [[1, 0], [1, 0], [1, 0], [8, 4]]},
       "legend": {"orient": "none", "legendX": 10.3, "legendY": 89, "rowPadding": 4.5, "title": null, "symbolType": "M-1.36,0H1.36", "symbolSize": 484}}}},
   {"data": {"name": "f"}, "mark": {"type": "point", "opacity": 0},
    "encoding": {
     "x": {"field": "t", "type": "quantitative", "scale": {"domain": [0, 13.49], "nice": false, "zero": false}, "axis": {"orient": "bottom", "title": null, "labels": false, "domain": false, "tickSize": 3, "values": [0.5,1,1.5,2,3,3.5,4,4.5,5.5,6,6.5,7,8,8.5,9,9.5,10.5,11,11.5,12,13]}},
     "y": {"field": "v", "type": "quantitative", "scale": {"domain": [-0.053, 1.357], "nice": false, "zero": false}, "axis": {"orient": "left", "title": null, "labels": false, "domain": false, "tickSize": 3, "values": [-0.05,0.05,0.1,0.15,0.25,0.3,0.35,0.45,0.5,0.55,0.65,0.7,0.75,0.85,0.9,0.95,1.05,1.1,1.15,1.25,1.3,1.35]}}}}
  ],
  "resolve": {"scale": {"x": "independent", "y": "independent"}}}
]
}
